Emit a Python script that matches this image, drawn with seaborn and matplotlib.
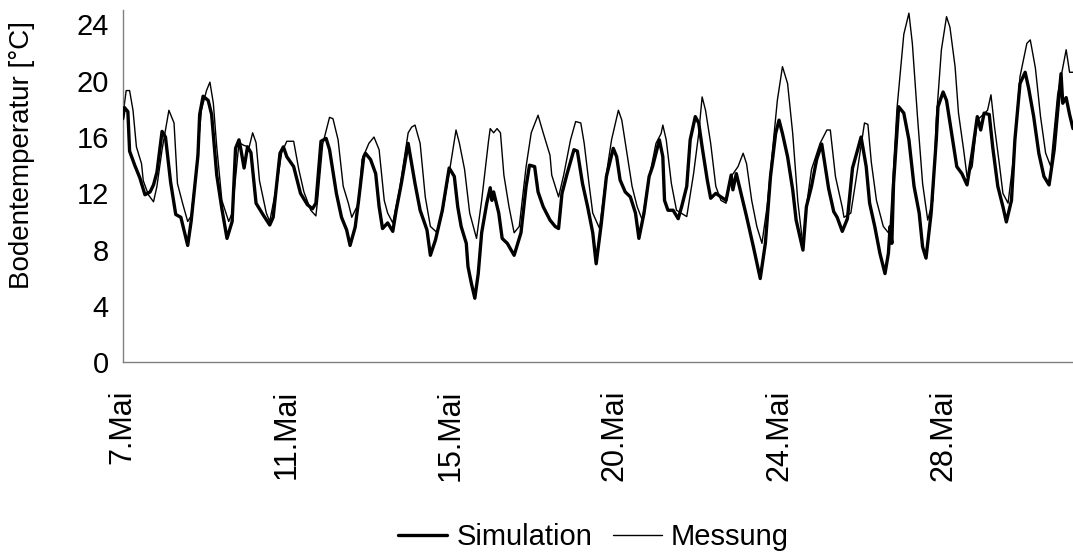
import matplotlib
matplotlib.use("Agg")
import matplotlib.pyplot as plt
import seaborn as sns
import pandas as pd

# hourly sample index (category axis), tick every 96 samples
tick_pos = [0, 96, 192, 288, 384, 480]
tick_labels = ["7.Mai", "11.Mai", "15.Mai", "20.Mai", "24.Mai", "28.Mai"]
y_ticks = [0, 4, 8, 12, 16, 20, 24]

sim_h = [0, 1, 3, 4, 7, 10, 13, 16, 18, 20, 23, 25, 28, 31, 34, 38, 40, 44, 45, 47, 50, 52, 55, 58, 61, 64, 66, 68, 69, 71,
         73, 75, 78, 82, 86, 88, 92, 94, 96, 100, 104, 108, 111, 113, 116, 119, 121, 125, 128, 131, 133, 136, 138, 141, 142,
         145, 148, 150, 152, 155, 158, 160, 163, 167, 171, 174, 178, 180, 183, 187, 191, 194, 196, 198, 201, 202, 204, 206,
         208, 210, 213, 215, 216, 217, 220, 222, 225, 229, 233, 236, 238, 241, 243, 246, 250, 253, 255, 257, 260, 264, 266,
         269, 272, 275, 277, 280, 283, 287, 289, 291, 294, 297, 300, 302, 305, 308, 310, 314, 316, 317, 319, 322, 325, 327,
         330, 332, 335, 337, 339, 342, 344, 347, 350, 353, 356, 357, 359, 365, 369, 373, 376, 379, 382, 384, 386, 389, 392,
         394, 398, 400, 403, 406, 409, 413, 416, 418, 421, 424, 427, 430, 432, 435, 437, 440, 443, 446, 448, 449, 450, 451,
         454, 457, 460, 463, 466, 468, 470, 473, 476, 477, 480, 482, 485, 488, 491, 494, 497, 500, 502, 504, 507, 509, 512,
         515, 517, 520, 522, 525, 528, 530, 533, 536, 539, 542, 545, 549, 550, 552, 554, 556]
sim_v = [17.3, 18.1, 17.8, 15.0, 14.0, 13.1, 11.9, 12.1, 12.6, 13.5, 16.4, 16.0, 12.8, 10.5, 10.3, 8.3, 10.0, 14.7, 17.6,
         18.9, 18.6, 17.6, 13.3, 10.9, 8.8, 10.0, 15.2, 15.8, 15.2, 13.8, 15.3, 14.9, 11.3, 10.5, 9.75, 10.3, 14.85, 15.3,
         14.6, 13.9, 12.0, 11.2, 10.9, 11.3, 15.7, 15.9, 15.1, 12.0, 10.3, 9.4, 8.3, 9.6, 11.5, 14.6, 14.85, 14.4, 13.4,
         11.05, 9.5, 9.9, 9.3, 10.8, 12.7, 15.55, 12.7, 10.8, 9.4, 7.6, 8.7, 10.8, 13.8, 13.2, 11.05, 9.65, 8.45, 6.8, 5.6,
         4.55, 6.3, 9.2, 11.3, 12.4, 11.5, 12.1, 10.6, 8.8, 8.45, 7.6, 9.2, 12.5, 14.0, 13.9, 12.1, 11.05, 10.1, 9.65, 9.5,
         12.0, 13.4, 15.1, 15.0, 12.7, 11.05, 9.2, 7.0, 9.85, 13.2, 15.2, 14.6, 12.95, 12.1, 11.75, 10.6, 8.8, 10.6, 13.2,
         13.9, 15.8, 14.6, 11.5, 10.8, 10.8, 10.2, 11.05, 12.5, 15.8, 17.45, 17.0, 15.3, 12.95, 11.65, 12.0, 11.75, 11.5,
         13.3, 12.25, 13.4, 10.35, 8.2, 5.95, 8.45, 13.2, 16.25, 17.2, 16.25, 14.6, 12.25, 10.1, 7.97, 11.05, 12.5, 14.4,
         15.5, 12.35, 10.7, 10.3, 9.3, 10.2, 13.8, 15.1, 16.0, 13.9, 11.3, 9.65, 7.75, 6.3, 7.75, 9.65, 8.45, 12.7, 18.15,
         17.7, 15.8, 12.5, 10.6, 8.2, 7.4, 10.6, 15.8, 18.15, 19.2, 18.6, 16.25, 13.9, 13.4, 12.6, 14.85, 17.45, 16.5, 17.7,
         17.6, 15.3, 12.5, 11.05, 9.97, 11.5, 15.8, 19.8, 20.6, 19.5, 17.45, 14.85, 13.2, 12.6, 15.1, 20.5, 18.4, 18.8,
         17.6, 16.6]

mes_h = [0, 2, 4, 6, 8, 11, 12, 15, 18, 20, 23, 27, 30, 32, 35, 38, 40, 43, 46, 49, 51, 53, 55, 58, 62, 64, 68, 71, 74, 76,
         78, 80, 84, 86, 90, 93, 96, 100, 103, 106, 110, 113, 114, 117, 121, 123, 126, 129, 132, 134, 138, 140, 144, 147,
         150, 153, 155, 158, 162, 167, 169, 171, 174, 177, 180, 184, 187, 192, 195, 197, 200, 203, 207, 210, 214, 215, 217,
         219, 221, 223, 226, 229, 232, 236, 239, 243, 246, 250, 251, 255, 258, 262, 265, 268, 270, 273, 275, 279, 283, 286,
         290, 292, 295, 298, 301, 304, 307, 312, 315, 316, 318, 321, 324, 330, 334, 337, 339, 341, 344, 347, 350, 353, 356,
         360, 363, 365, 368, 371, 374, 377, 380, 383, 386, 389, 392, 395, 398, 400, 403, 408, 412, 414, 417, 421, 422, 426,
         429, 434, 436, 438, 441, 445, 448, 449, 453, 457, 460, 462, 465, 468, 471, 474, 476, 479, 482, 484, 487, 489, 492,
         494, 497, 500, 503, 506, 508, 510, 513, 515, 518, 521, 525, 529, 531, 534, 537, 540, 543, 547, 552, 554, 556]
mes_v = [17.44, 19.3, 19.3, 17.9, 15.3, 14.1, 12.9, 11.9, 11.4, 12.5, 15.1, 17.9, 17.0, 12.7, 11.3, 10.0, 10.4, 13.7, 17.9,
         19.3, 19.9, 18.4, 15.3, 11.5, 10.0, 10.6, 15.6, 15.4, 15.3, 16.3, 15.6, 12.9, 10.6, 10.0, 12.5, 14.9, 15.7, 15.7,
         13.7, 12.1, 10.8, 10.4, 11.5, 15.5, 17.4, 17.3, 15.8, 12.5, 11.3, 10.3, 11.3, 14.4, 15.55, 16.0, 15.1, 11.5, 10.6,
         9.9, 12.3, 16.3, 16.7, 16.85, 15.55, 11.75, 9.65, 9.2, 10.6, 14.2, 16.5, 15.55, 13.7, 10.6, 8.8, 11.5, 15.7, 16.6,
         16.3, 16.6, 16.3, 13.3, 11.05, 9.2, 9.65, 13.9, 16.3, 17.55, 16.3, 14.7, 13.3, 11.75, 13.3, 15.8, 17.1, 17.0, 15.55,
         12.5, 10.6, 9.5, 13.4, 15.8, 17.9, 17.2, 14.85, 12.5, 11.05, 10.1, 12.5, 15.55, 16.25, 16.85, 15.8, 12.7, 10.8,
         10.35, 13.4, 16.25, 18.85, 17.9, 15.55, 12.5, 11.5, 11.3, 13.2, 13.9, 14.85, 14.1, 11.5, 9.65, 8.45, 11.05, 14.85,
         18.6, 21.0, 19.8, 16.25, 11.4, 8.3, 11.05, 13.7, 15.55, 16.5, 16.5, 13.2, 11.0, 10.3, 10.6, 12.95, 17.0, 16.9,
         14.2, 11.5, 9.65, 9.2, 9.6, 18.0, 23.3, 24.8, 22.65, 17.45, 12.7, 10.1, 11.5, 17.2, 22.2, 24.55, 23.8, 21.0, 17.7,
         15.1, 13.2, 13.9, 17.2, 17.55, 17.9, 19.0, 16.8, 14.0, 12.0, 11.3, 14.3, 20.3, 22.65, 22.9, 20.9, 17.45, 14.85,
         13.9, 19.0, 22.2, 20.6, 20.6]

sim = pd.DataFrame({"Stunde": sim_h, "Temperatur": sim_v})
mes = pd.DataFrame({"Stunde": mes_h, "Temperatur": mes_v})

sns.set_theme(style="white")
plt.rcParams["font.family"] = ["Liberation Sans", "DejaVu Sans"]
plt.rcParams["text.color"] = "black"

fig = plt.figure(figsize=(10.73, 5.55), dpi=100)
ax = fig.add_axes([0.1144, 0.3472, 0.8856, 0.6342])

sns.lineplot(data=mes, x="Stunde", y="Temperatur", ax=ax, color="black", linewidth=1.0,
             sort=False, label="Messung", legend=False, zorder=2)
sns.lineplot(data=sim, x="Stunde", y="Temperatur", ax=ax, color="black", linewidth=2.4,
             sort=False, label="Simulation", legend=False, zorder=3)

ax.set_xlim(0, 556)
ax.set_ylim(0, 25)
ax.set_yticks(y_ticks)
ax.set_xticks(tick_pos)
ax.set_xticklabels(tick_labels, rotation=90, va="top", ha="center")

for side in ["top", "right"]:
    ax.spines[side].set_visible(False)
for side in ["left", "bottom"]:
    ax.spines[side].set_color("#808080")
    ax.spines[side].set_linewidth(1.0)

ax.tick_params(axis="both", which="major", direction="out", length=7, width=1.0,
               color="#808080", labelcolor="black")
ax.tick_params(axis="x", labelsize=22, pad=13)
ax.tick_params(axis="y", labelsize=21, pad=3)

ax.set_xlabel("")
ax.set_ylabel("Bodentemperatur [°C]", fontsize=20, color="black")
ax.yaxis.set_label_coords(-0.092, 0.59)

handles, labels = ax.get_legend_handles_labels()
order = [labels.index("Simulation"), labels.index("Messung")]
fig.legend([handles[i] for i in order], [labels[i] for i in order],
           loc="center", bbox_to_anchor=(0.553, 0.0324), ncol=2, frameon=False,
           fontsize=21, handlelength=1.7, handletextpad=0.3, columnspacing=0.7,
           borderpad=0, borderaxespad=0, labelcolor="black")

fig.savefig("out.png", dpi=100, facecolor="white")
